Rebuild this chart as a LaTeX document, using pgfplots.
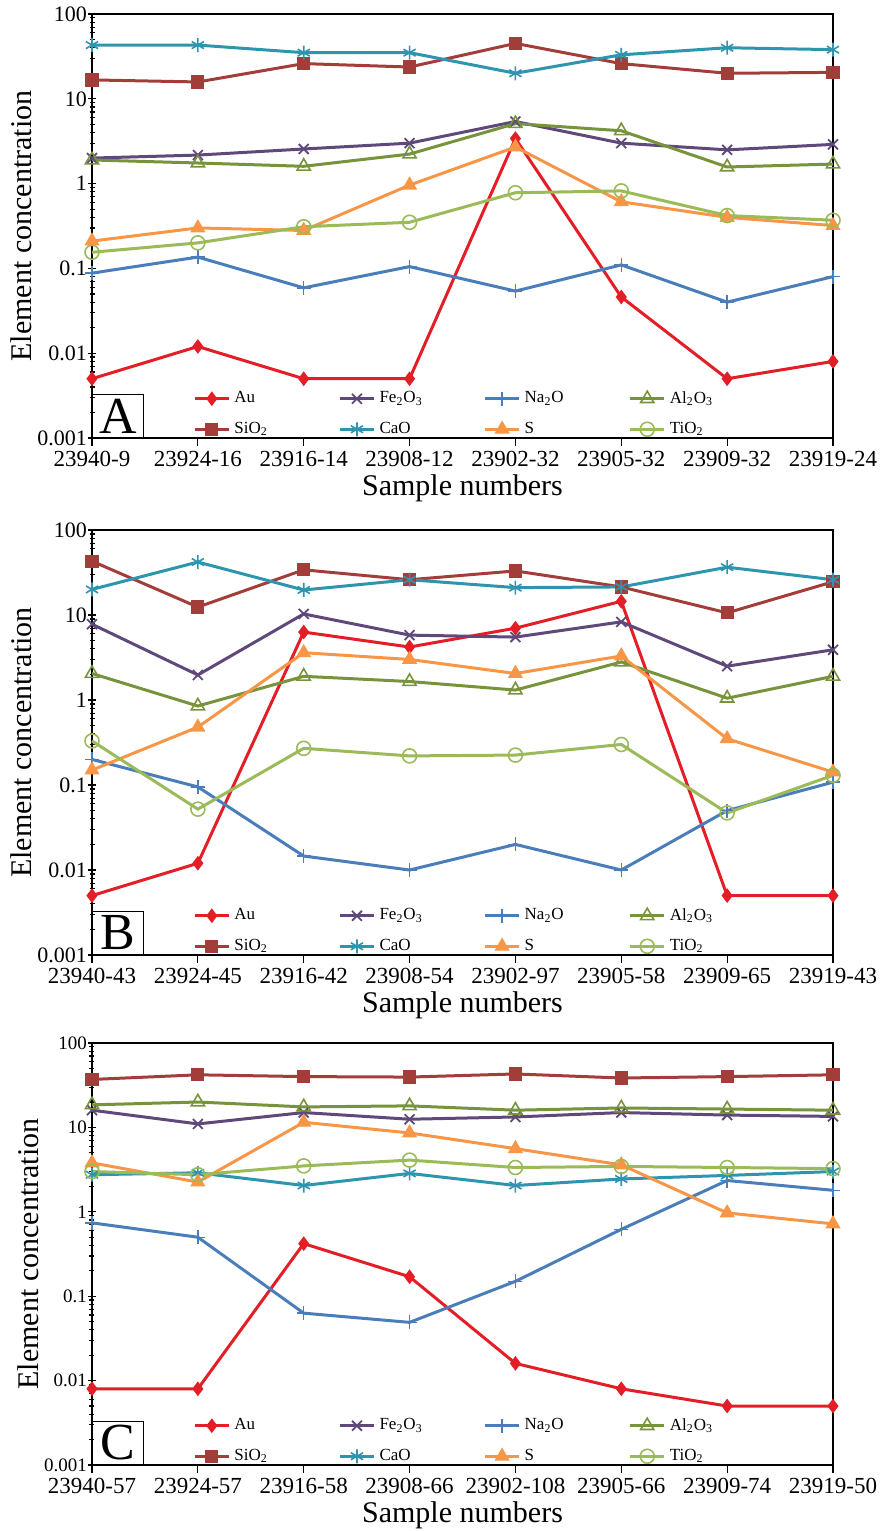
\documentclass[border=0pt]{standalone}
\usepackage{fontspec}
\setmainfont{Liberation Serif}
\usepackage{pgfplots}
\usepackage{pgfplotstable}
\pgfplotsset{compat=1.18}

\definecolor{cAu}{RGB}{228,30,38}
\definecolor{cFe}{RGB}{95,73,122}
\definecolor{cNa}{RGB}{74,126,187}
\definecolor{cAl}{RGB}{119,147,60}
\definecolor{cSi}{RGB}{163,61,58}
\definecolor{cCa}{RGB}{46,149,174}
\definecolor{cS}{RGB}{247,150,70}
\definecolor{cTi}{RGB}{155,187,89}

\pgfplotstableread{
x Au Fe Na Al Si Ca S Ti
0 0.005 2.0 0.088 1.9 16.7 43 0.21 0.155
1 0.012 2.17 0.136 1.75 15.8 43 0.30 0.20
2 0.005 2.56 0.059 1.6 26 35 0.28 0.31
3 0.005 3.0 0.105 2.23 23.7 35 0.96 0.35
4 3.4 5.4 0.054 5.1 45 20 2.7 0.78
5 0.046 3.0 0.11 4.2 26 33 0.61 0.82
6 0.005 2.5 0.040 1.57 20 40 0.40 0.42
7 0.008 2.9 0.08 1.7 20.5 38 0.32 0.37
}\tabA

\pgfplotstableread{
x Au Fe Na Al Si Ca S Ti
0 0.005 7.8 0.2 2.05 43 20 0.15 0.33
1 0.012 1.97 0.095 0.85 12.4 42 0.48 0.052
2 6.3 10.3 0.0146 1.9 34 19.7 3.6 0.27
3 4.2 5.8 0.010 1.65 26 26 3.0 0.22
4 7.0 5.5 0.020 1.31 33 21 2.05 0.225
5 14.5 8.3 0.010 2.8 21.4 21.4 3.3 0.30
6 0.005 2.5 0.050 1.05 10.6 36.5 0.35 0.047
7 0.005 3.9 0.108 1.9 24.6 26 0.142 0.13
}\tabB

\pgfplotstableread{
x Au Fe Na Al Si Ca S Ti
0 0.008 16 0.74 18.5 37 2.75 3.8 3.0
1 0.008 11 0.50 20 42 2.9 2.25 2.75
2 0.42 15 0.063 17.5 40 2.05 11.5 3.5
3 0.17 12.5 0.049 18 39.5 2.85 8.6 4.1
4 0.016 13.3 0.15 16 43 2.05 5.6 3.35
5 0.008 15 0.62 17 38.5 2.45 3.6 3.45
6 0.005 14 2.35 16.5 40 2.7 0.97 3.35
7 0.005 13.5 1.8 16 42 3.0 0.72 3.25
}\tabC

\newcommand{\lb}[1]{\makebox[50pt][l]{#1}}

% #1 height, #2 y of bottom, #3 xticklabels, #4 table, #5 letter, #6 ytick font size
\newcommand{\panel}[6]{%
\begin{axis}[
    scale only axis, width=370.5pt, height=#1,
    at={(46pt,#2)}, anchor=south west,
    ymode=log, ymin=0.001, ymax=100, xmin=0, xmax=7, clip=false,
    ytick={0.001,0.01,0.1,1,10,100},
    yticklabels={0.001,0.01,0.1,1,10,100},
    minor ytick={0.002,0.003,0.004,0.005,0.006,0.007,0.008,0.009,0.02,0.03,0.04,0.05,0.06,0.07,0.08,0.09,0.2,0.3,0.4,0.5,0.6,0.7,0.8,0.9,2,3,4,5,6,7,8,9,20,30,40,50,60,70,80,90},
    xtick={0,1,2,3,4,5,6,7},
    xticklabels={#3},
    xtick pos=left, ytick pos=left,
    xtick align=outside, ytick align=center,
    major tick length=4pt, minor tick length=2.5pt,
    tick style={black, line width=0.6pt},
    axis line style={black, line width=0.8pt},
    xticklabel style={font=\fontsize{11.5}{13}\selectfont, yshift=1pt},
    yticklabel style={font=\fontsize{#6}{13}\selectfont, xshift=3pt},
    xlabel={Sample numbers},
    ylabel={Element concentration},
    ylabel shift=-2pt,
    xlabel style={font=\fontsize{15}{17}\selectfont, yshift=3pt},
    ylabel style={font=\fontsize{15}{17}\selectfont, yshift=-2pt},
    legend columns=4,
    legend cell align=left,
    legend style={draw=none, fill=none, at={(0.128,-0.016)}, anchor=south west,
      font=\fontsize{8.5}{9}\selectfont, row sep=4pt},
  ]
  \addplot[color=cAu, line width=1.5pt, mark=diamond*, mark size=3.2pt, mark options={solid, line width=0.6pt}] table[x=x,y=Au]{#4};
  \addplot[color=cFe, line width=1.5pt, mark=x, mark size=3.5pt, mark options={line width=0.9pt}] table[x=x,y=Fe]{#4};
  \addplot[color=cNa, line width=1.5pt, mark=+, mark size=3.5pt, mark options={line width=0.7pt}] table[x=x,y=Na]{#4};
  \addplot[color=cAl, line width=1.5pt, mark=triangle, mark size=3.8pt, mark options={fill=white, line width=0.8pt}] table[x=x,y=Al]{#4};
  \addplot[color=cSi, line width=1.5pt, mark=square*, mark size=3pt, mark options={line width=0.6pt}] table[x=x,y=Si]{#4};
  \addplot[color=cCa, line width=1.5pt, mark=asterisk, mark size=3.5pt, mark options={line width=0.8pt}] table[x=x,y=Ca]{#4};
  \addplot[color=cS, line width=1.5pt, mark=triangle*, mark size=3.8pt, mark options={line width=0.6pt}] table[x=x,y=S]{#4};
  \addplot[color=cTi, line width=1.5pt, mark=o, mark size=3.5pt, mark options={fill=white, line width=0.8pt}] table[x=x,y=Ti]{#4};
  \legend{\lb{Au},\lb{Fe\textsubscript{2}O\textsubscript{3}},\lb{Na\textsubscript{2}O},\lb{Al\textsubscript{2}O\textsubscript{3}},
          \lb{SiO\textsubscript{2}},\lb{CaO},\lb{S},\lb{TiO\textsubscript{2}}}
  \node[draw=black, line width=0.6pt, anchor=south west, minimum width=25.5pt,
        minimum height=21.5pt, inner sep=0pt, font=\fontsize{26}{26}\selectfont]
        at (rel axis cs:0,0) {#5};
\end{axis}}

\begin{document}
\begin{tikzpicture}
\path[use as bounding box] (0,0) rectangle (442pt,-765.5pt);
\panel{212pt}{-219pt}{23940-9,23924-16,23916-14,23908-12,23902-32,23905-32,23909-32,23919-24}{\tabA}{A}{11}
\panel{212.5pt}{-477.5pt}{23940-43,23924-45,23916-42,23908-54,23902-97,23905-58,23909-65,23919-43}{\tabB}{B}{11}
\panel{211pt}{-732.5pt}{23940-57,23924-57,23916-58,23908-66,23902-108,23905-66,23909-74,23919-50}{\tabC}{C}{9.5}
\end{tikzpicture}
\end{document}
